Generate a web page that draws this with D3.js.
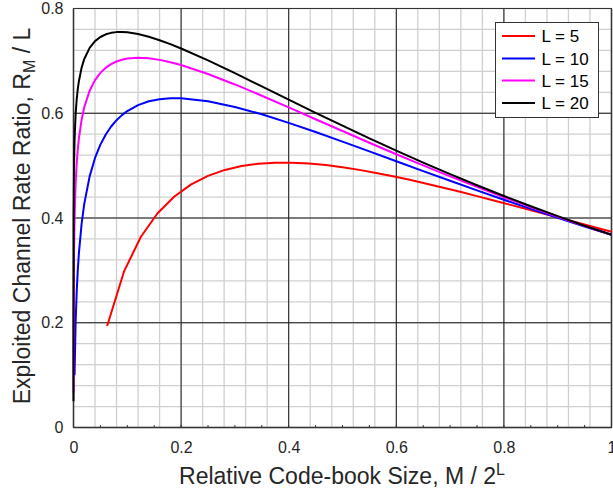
<!DOCTYPE html>
<html><head><meta charset="utf-8">
<script src="https://cdn.jsdelivr.net/npm/d3@7/dist/d3.min.js"></script>
<style>body{margin:0;background:#fff}svg{display:block;font-family:"Liberation Sans",Arial,sans-serif}</style>
</head><body><svg id="c" width="613" height="495"></svg>
<script>
// Data
const seriesNames = ["L = 5", "L = 10", "L = 15", "L = 20"];
const seriesColors = ["#ff0000", "#0000ff", "#ff00ff", "#000000"];
const xTicks = [0, 0.2, 0.4, 0.6, 0.8, 1];
const yTicks = [0, 0.2, 0.4, 0.6, 0.8];
const xTickLabels = ["0", "0.2", "0.4", "0.6", "0.8", "1"];
const yTickLabels = ["0", "0.2", "0.4", "0.6", "0.8"];

const x5 = [0.0625,0.09375,0.125,0.15625,0.1875,0.21875,0.25,0.28125,0.3125,0.34375,0.375,0.40625,0.4375,0.46875,0.5,0.53125,0.5625,0.59375,0.625,0.65625,0.6875,0.71875,0.75,0.78125,0.8125,0.84375,0.875,0.90625,0.9375,0.96875,1.0];
const y5 = [0.1938,0.2975,0.3637,0.4090,0.4411,0.4641,0.4804,0.4918,0.4993,0.5037,0.5056,0.5056,0.5040,0.5010,0.4969,0.4919,0.4861,0.4798,0.4729,0.4655,0.4579,0.4500,0.4418,0.4335,0.4251,0.4166,0.4080,0.3994,0.3908,0.3823,0.3737];

const x10 = [0.00195,0.004,0.006,0.008,0.01,0.015,0.02,0.03,0.04,0.05,0.06,0.07,0.08,0.09,0.1,0.12,0.14,0.16,0.18,0.2,0.25,0.3,0.35,0.4,0.45,0.5,0.55,0.6,0.65,0.7,0.75,0.8,0.85,0.9,0.95,1.0];
const y10 = [0.0998,0.2026,0.2604,0.3010,0.3323,0.3882,0.4270,0.4795,0.5146,0.5401,0.5595,0.5747,0.5867,0.5964,0.6042,0.6156,0.6228,0.6268,0.6287,0.6286,0.6230,0.6121,0.5980,0.5817,0.5641,0.5459,0.5271,0.5084,0.4896,0.4710,0.4528,0.4348,0.4174,0.4004,0.3838,0.3679];

const x15 = [0.000061,0.000122,0.000244,0.001,0.002,0.004,0.006,0.008,0.01,0.015,0.02,0.03,0.04,0.05,0.06,0.07,0.08,0.09,0.1,0.12,0.14,0.16,0.18,0.2,0.25,0.3,0.35,0.4,0.45,0.5,0.55,0.6,0.65,0.7,0.75,0.8,0.85,0.9,0.95,1.0];
const y15 = [0.0667,0.1333,0.2000,0.3353,0.4015,0.4671,0.5049,0.5313,0.5515,0.5872,0.6114,0.6431,0.6633,0.6771,0.6870,0.6939,0.6988,0.7022,0.7044,0.7060,0.7050,0.7019,0.6975,0.6920,0.6750,0.6550,0.6335,0.6112,0.5886,0.5661,0.5437,0.5218,0.5004,0.4796,0.4593,0.4397,0.4207,0.4025,0.3848,0.3679];

const x20 = [0.0000019,0.0000305,0.000244,0.001,0.002,0.004,0.006,0.008,0.01,0.015,0.02,0.03,0.04,0.05,0.06,0.07,0.08,0.09,0.1,0.12,0.14,0.16,0.18,0.2,0.25,0.3,0.35,0.4,0.45,0.5,0.55,0.6,0.65,0.7,0.75,0.8,0.85,0.9,0.95,1.0];
const y20 = [0.0500,0.2500,0.4000,0.5012,0.5506,0.5993,0.6272,0.6465,0.6611,0.6867,0.7036,0.7249,0.7377,0.7456,0.7507,0.7535,0.7549,0.7552,0.7545,0.7512,0.7461,0.7395,0.7320,0.7236,0.7009,0.6765,0.6513,0.6260,0.6009,0.5762,0.5520,0.5286,0.5058,0.4838,0.4626,0.4421,0.4224,0.4035,0.3853,0.3679];

const seriesX = [x5, x10, x15, x20];
const seriesY = [y5, y10, y15, y20];

const svg = d3.select("#c");
const x = d3.scaleLinear().domain([0, 1]).range([73.5, 611.5]);
const y = d3.scaleLinear().domain([0, 0.8]).range([427.5, 8.5]);

// minor grid
const minorX = d3.range(0, 1.0001, 0.04);
const minorY = d3.range(0, 0.8001, 0.04);
const g = svg.append("g");
g.selectAll(".mx").data(minorX).join("line")
  .attr("x1", d => x(d)).attr("x2", d => x(d)).attr("y1", y(0)).attr("y2", y(0.8))
  .attr("stroke", "#d0d0d0").attr("stroke-width", 1.3);
g.selectAll(".my").data(minorY).join("line")
  .attr("y1", d => y(d)).attr("y2", d => y(d)).attr("x1", x(0)).attr("x2", x(1))
  .attr("stroke", "#d0d0d0").attr("stroke-width", 1.3);
// major grid
g.selectAll(".Mx").data(xTicks).join("line")
  .attr("x1", d => x(d)).attr("x2", d => x(d)).attr("y1", y(0)).attr("y2", y(0.8))
  .attr("stroke", "#1a1a1a").attr("stroke-width", 1);
g.selectAll(".My").data(yTicks).join("line")
  .attr("y1", d => y(d)).attr("y2", d => y(d)).attr("x1", x(0)).attr("x2", x(1))
  .attr("stroke", "#1a1a1a").attr("stroke-width", 1);

// axes
const xAxis = d3.axisBottom(x).tickValues(xTicks).tickFormat((d, i) => xTickLabels[i]).tickSize(0).tickPadding(14);
const yAxis = d3.axisLeft(y).tickValues(yTicks).tickFormat((d, i) => yTickLabels[i]).tickSize(0).tickPadding(10);
const gx = svg.append("g").attr("transform", `translate(0,${y(0)})`).call(xAxis);
const gy = svg.append("g").attr("transform", `translate(${x(0)},0)`).call(yAxis);
[gx, gy].forEach(a => {
  a.select(".domain").remove();
  a.selectAll("text").attr("font-size", 16).attr("fill", "#262626").attr("font-family", "'Liberation Sans',Arial,sans-serif");
});
// minor ticks on bottom axis
const minorTickX = d3.range(0, 1.0001, 0.05);
svg.append("g").selectAll("line").data(minorTickX).join("line")
  .attr("x1", d => x(d)).attr("x2", d => x(d)).attr("y1", y(0)).attr("y2", y(0) - 2.5)
  .attr("stroke", "#333").attr("stroke-width", 1);
// axis lines / box
svg.append("line").attr("x1", x(0)).attr("x2", x(1)).attr("y1", y(0)).attr("y2", y(0)).attr("stroke", "#333").attr("stroke-width", 1.5);
svg.append("line").attr("x1", x(0)).attr("x2", x(0)).attr("y1", y(0)).attr("y2", y(0.8)).attr("stroke", "#333").attr("stroke-width", 1.5);
svg.append("line").attr("x1", x(0)).attr("x2", x(1)).attr("y1", y(0.8)).attr("y2", y(0.8)).attr("stroke", "#333").attr("stroke-width", 1);
svg.append("line").attr("x1", x(1)).attr("x2", x(1)).attr("y1", y(0)).attr("y2", y(0.8)).attr("stroke", "#333").attr("stroke-width", 1.5);

// curves
const line = d3.line().x(d => x(d[0])).y(d => y(d[1]));
seriesX.forEach((xs, i) => {
  const pts = xs.map((v, j) => [v, seriesY[i][j]]);
  svg.append("path").datum(pts).attr("d", line)
    .attr("fill", "none").attr("stroke", seriesColors[i]).attr("stroke-width", 2)
    .attr("stroke-linejoin", "round");
});

// legend
const lg = svg.append("g");
lg.append("rect").attr("x", 495.5).attr("y", 22.5).attr("width", 103).attr("height", 95)
  .attr("fill", "#fff").attr("stroke", "#333").attr("stroke-width", 1);
const rowY = [36, 58.5, 80.5, 103];
seriesNames.forEach((n, i) => {
  lg.append("line").attr("x1", 502).attr("x2", 535).attr("y1", rowY[i]).attr("y2", rowY[i])
    .attr("stroke", seriesColors[i]).attr("stroke-width", 2);
  lg.append("text").attr("x", 541.5).attr("y", rowY[i]).attr("dy", "0.36em")
    .attr("font-size", 17).attr("fill", "#000").text(n);
});

// axis labels
const xl = svg.append("text").attr("x", 342).attr("y", 484).attr("text-anchor", "middle")
  .attr("font-size", 23).attr("fill", "#262626");
xl.append("tspan").text("Relative Code-book Size, M / 2");
xl.append("tspan").attr("dy", -9).attr("font-size", 16).text("L");

const yl = svg.append("text").attr("transform", "translate(30,216) rotate(-90)").attr("text-anchor", "middle")
  .attr("font-size", 23).attr("fill", "#262626");
yl.append("tspan").text("Exploited Channel Rate Ratio, R");
yl.append("tspan").attr("dy", 5).attr("font-size", 16).text("M");
yl.append("tspan").attr("dy", -5).text(" / L");
</script></body></html>
